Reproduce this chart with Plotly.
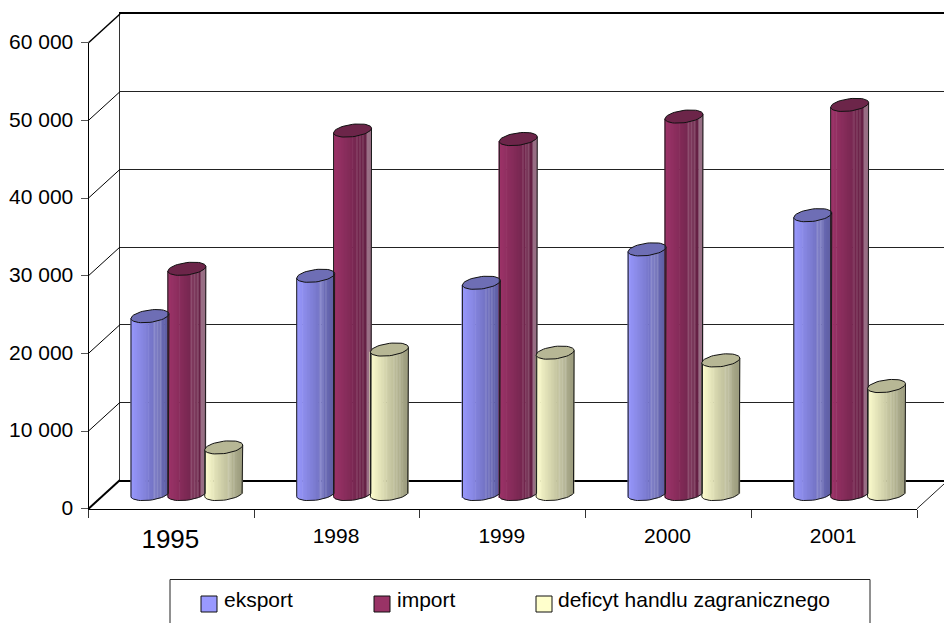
import numpy as np
import plotly.graph_objects as go

YEARS = ["1995", "1998", "1999", "2000", "2001"]
EKSPORT = [22900, 28100, 27200, 31500, 35900]
IMPORT = [29000, 46800, 45700, 48600, 50100]
DEFICYT = [6000, 18600, 18200, 17200, 13900]
Y_TICKS = [0, 10000, 20000, 30000, 40000, 50000, 60000]
Y_LABELS = ["0", "10 000", "20 000", "30 000", "40 000", "50 000", "60 000"]
NAMES = ["eksport", "import", "deficyt handlu zagranicznego"]

W, H = 944, 623
FONT = "Liberation Sans, Arial, sans-serif"


def fx(p):
    return p / W


def fy(p):
    return 1 - p / H


PX_PER_VALUE = 466.0 / 60000
N_STRIPS = 26
BAR_W = 0.229
BAR_STEP = 0.2225
ELL_B = 6.2   # px
ELL_K = 2.3   # px

STYLES = [
    dict(left=(153, 153, 255), right=(96, 96, 165), top="#6E6EB5", edge=0.0),
    dict(left=(158, 52, 106), right=(96, 32, 66), top="#6C2549", edge=0.35),
    dict(left=(255, 255, 208), right=(158, 158, 128), top="#B7B795", edge=0.0),
]
STRIPES = [(0.60, 0.64), (0.70, 0.73), (0.78, 0.81), (0.87, 0.90)]


def strip_color(st, t):
    s = min(1.0, t / 0.95)
    c = np.array(st["left"]) * (1 - s) + np.array(st["right"]) * s
    if any(a <= t <= b for a, b in STRIPES):
        c = c * 0.82 + 255 * 0.18
    if t > 0.9:
        c = c * (1 - st["edge"]) + 255 * st["edge"]
    return "rgb(%d,%d,%d)" % tuple(np.clip(c, 0, 255).astype(int))


fig = go.Figure()

# back wall carrier and front axes carrier
fig.add_trace(go.Scatter(x=[0], y=[0], xaxis="x", yaxis="y", mode="none",
                         hoverinfo="skip", showlegend=False))
fig.add_trace(go.Scatter(x=YEARS, y=[0] * 5, xaxis="x2", yaxis="y2", mode="none",
                         hoverinfo="skip", showlegend=False))

SERIES = [EKSPORT, IMPORT, DEFICYT]
xs = np.arange(len(YEARS))
for si, (vals, st) in enumerate(zip(SERIES, STYLES)):
    vals = np.array(vals, dtype=float)
    center = (si - 1) * BAR_STEP + 0.003
    sw = BAR_W / N_STRIPS
    for k in range(N_STRIPS):
        u = (k + 0.5) / N_STRIPS * 2 - 1
        low = (ELL_B * np.sqrt(1 - u * u) - ELL_K * u) / PX_PER_VALUE
        high = ELL_K * u / PX_PER_VALUE
        fig.add_trace(go.Bar(
            x=xs, y=vals + high + low, base=-low * np.ones(5),
            width=sw * 1.25, offset=center - BAR_W / 2 + k * sw,
            marker=dict(color=strip_color(st, (k + 0.5) / N_STRIPS), line=dict(width=0)),
            xaxis="x3", yaxis="y3", hoverinfo="skip", showlegend=False))

theta = np.linspace(0, 2 * np.pi, 49)
arc = np.linspace(0, np.pi, 25)
for si, (vals, st) in enumerate(zip(SERIES, STYLES)):
    center = (si - 1) * BAR_STEP + 0.003
    ex, ey, ox, oy = [], [], [], []
    for i, v in enumerate(vals):
        a = BAR_W / 2
        ex += list(i + center + a * np.cos(theta)) + [None]
        ey += list(v + (ELL_K * np.cos(theta) + ELL_B * np.sin(theta)) / PX_PER_VALUE) + [None]
        # silhouette: right edge, bottom arc, left edge
        ox += [i + center + a] + list(i + center + a * np.cos(arc)) + [i + center - a, None]
        oy += [v + ELL_K / PX_PER_VALUE] + list((ELL_K * np.cos(arc) - ELL_B * np.sin(arc)) / PX_PER_VALUE) + [v - ELL_K / PX_PER_VALUE, None]
    fig.add_trace(go.Scatter(x=ox, y=oy, mode="lines", line=dict(color="#1a1a1a", width=1),
                             xaxis="x3", yaxis="y3", hoverinfo="skip", showlegend=False))
    fig.add_trace(go.Scatter(x=ex, y=ey, mode="lines", fill="toself", fillcolor=st["top"],
                             line=dict(color="#111111", width=1),
                             xaxis="x3", yaxis="y3", hoverinfo="skip", showlegend=False))

shapes = []
annotations = []
# depth lines
for v in Y_TICKS:
    y0 = 508.7 - v * PX_PER_VALUE
    shapes.append(dict(type="line", xref="paper", yref="paper", x0=fx(88.5), y0=fy(y0),
                       x1=fx(120), y1=fy(y0 - 28.7),
                       line=dict(color="#000", width=2 if v == 0 else (1.5 if v == 60000 else 1))))
shapes.append(dict(type="line", xref="paper", yref="paper", x0=fx(917), y0=fy(508.7),
                   x1=fx(944), y1=fy(484), line=dict(color="#222", width=1)))

# legend box
shapes.append(dict(type="rect", xref="paper", yref="paper", x0=fx(170), x1=fx(870), y0=fy(640), y1=fy(579.5),
                   line=dict(color="#222", width=1), fillcolor="white"))
LEG_X = [201, 374, 536]
TXT_X = [222, 395, 556]
LEG_COL = ["#9999FF", "#993366", "#FFFFCC"]
for lx, tx, col, name in zip(LEG_X, TXT_X, LEG_COL, NAMES):
    shapes.append(dict(type="rect", xref="paper", yref="paper", x0=fx(lx), x1=fx(lx + 16),
                       y0=fy(612), y1=fy(596), fillcolor=col, line=dict(color="#111", width=1)))
    annotations.append(dict(text=name, xref="paper", yref="paper", x=fx(tx), y=fy(599),
                            xanchor="left", yanchor="middle", showarrow=False,
                            font=dict(family=FONT, size=21, color="black")))

X_LABELS = ['<span style="font-size:26px;baseline-shift:-5px">1995</span>'] + YEARS[1:]

fig.update_layout(
    template="none",
    width=W, height=H, margin=dict(l=0, r=0, t=0, b=0, pad=0),
    paper_bgcolor="white", plot_bgcolor="rgba(0,0,0,0)",
    barmode="overlay", showlegend=False, shapes=shapes, annotations=annotations,
    font=dict(family=FONT, size=21, color="black"),
    xaxis=dict(domain=[fx(120), 1], range=[0, 1], anchor="y", showgrid=False, showticklabels=False,
               ticks="", zeroline=False, showline=True, mirror=True, linecolor="#000", linewidth=2, automargin=False),
    yaxis=dict(domain=[fy(480), fy(14)], range=[0, 60000], anchor="x", tickmode="array",
               tickvals=Y_TICKS, showticklabels=False, ticks="", showgrid=True, gridcolor="#222",
               gridwidth=1, zeroline=False, showline=True, linecolor="#333", linewidth=1, automargin=False),
    xaxis2=dict(domain=[fx(88.5), fx(917)], anchor="y2", type="category", categoryorder="array",
                categoryarray=YEARS, range=[-0.5, 4.5], tickmode="array", tickvals=YEARS, ticktext=X_LABELS,
                tickson="boundaries", ticks="outside", ticklen=8, tickcolor="#333",
                showgrid=False, zeroline=False, showline=True, linecolor="#000", linewidth=1,
                ticklabelstandoff=8, ticklabelshift=-1, tickfont=dict(family=FONT, size=21), automargin=False),
    yaxis2=dict(domain=[fy(508.7), fy(42.7)], range=[0, 60000], anchor="x2", tickmode="array",
                tickvals=Y_TICKS, ticktext=Y_LABELS, ticks="outside", ticklen=7, tickcolor="#555",
                showgrid=False, zeroline=False, showline=True, linecolor="#000", linewidth=1,
                ticklabelshift=-1, ticklabelstandoff=3, tickfont=dict(family=FONT, size=21), automargin=False),
    xaxis3=dict(domain=[fx(103.5), fx(932)], range=[-0.5, 4.5], anchor="y3", visible=False, automargin=False),
    yaxis3=dict(domain=[fy(494 + 2000 * PX_PER_VALUE), fy(28)], range=[-2000, 60000], anchor="x3", visible=False, automargin=False),
)

fig.write_html("out.html", config={"displayModeBar": False},
               post_script="document.body.style.margin='0';document.body.style.overflow='hidden';")
